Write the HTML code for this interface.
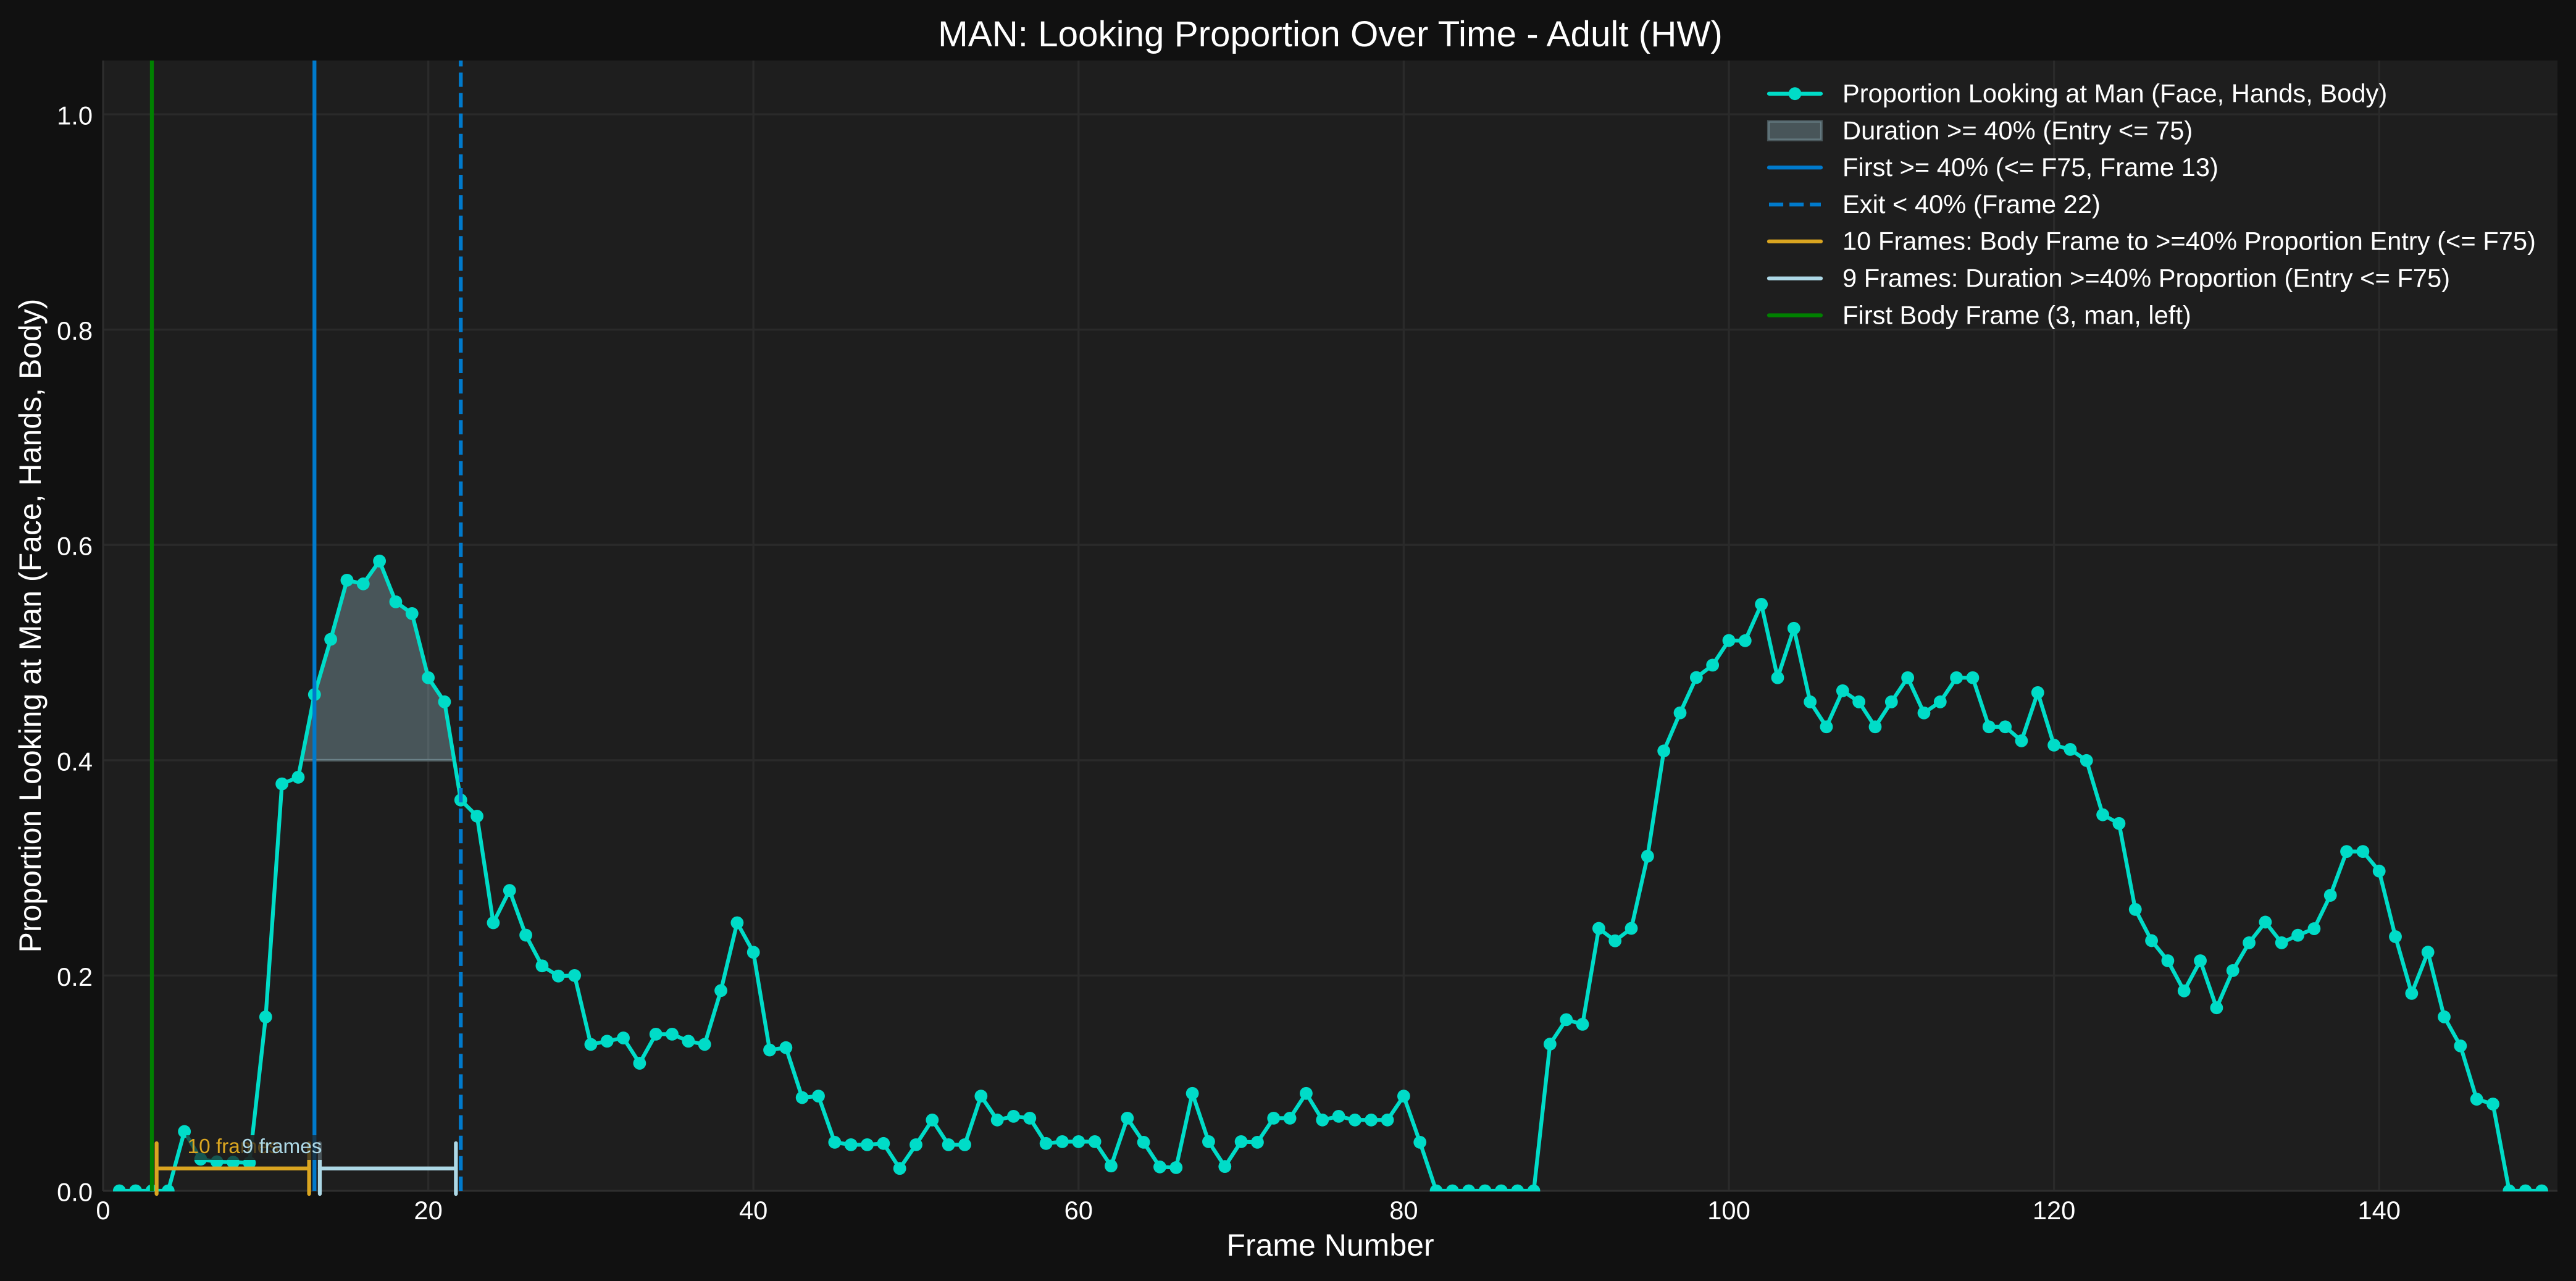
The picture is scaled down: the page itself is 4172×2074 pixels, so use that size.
<!DOCTYPE html>
<html lang="en">
<head>
<meta charset="utf-8">
<title>MAN: Looking Proportion Over Time - Adult (HW)</title>
<style>
html,body{margin:0;padding:0;background:#111111;}
svg{display:block;font-family:"Liberation Sans",Arial,sans-serif;}
</style>
</head>
<body>
<svg id="chart" xmlns="http://www.w3.org/2000/svg" width="4172" height="2074" viewBox="0 0 4172 2074">
  <rect x="0" y="0" width="4172" height="2074" fill="#111111"/>
  <rect x="167" y="98" width="3975" height="1830" fill="#1e1e1e"/>
  <defs>
    <clipPath id="axes-clip"><rect x="167" y="98" width="3975" height="1831"/></clipPath>
  </defs>
  <g id="grid"></g>
  <line x1="167" y1="98" x2="167" y2="1928" stroke="#2e2e2e" stroke-width="2"/>
  <line x1="167" y1="1928" x2="4142" y2="1928" stroke="#2e2e2e" stroke-width="2"/>
  <g id="plot-clipped" clip-path="url(#axes-clip)"></g>
  <g id="annotations"></g>
  <g id="x-ticks"></g>
  <g id="y-ticks"></g>

  <text x="2154.5" y="75" text-anchor="middle" font-size="58.33" fill="#ffffff">MAN: Looking Proportion Over Time - Adult (HW)</text>
  <text x="2154.5" y="2033" text-anchor="middle" font-size="50" fill="#ffffff">Frame Number</text>
  <text transform="translate(66 1013) rotate(-90)" text-anchor="middle" font-size="50" fill="#ffffff">Proportion Looking at Man (Face, Hands, Body)</text>

  <g font-size="41.67" fill="#ffffff">
    <g>
      <line x1="2865" y1="151.7" x2="2949" y2="151.7" stroke="#00dcc8" stroke-width="6.25" stroke-linecap="round"/>
      <circle cx="2907" cy="151.7" r="10.4" fill="#00dcc8"/>
      <text x="2984" y="165.5">Proportion Looking at Man (Face, Hands, Body)</text>
    </g>
    <g>
      <rect x="2864" y="196.5" width="86" height="30" fill="#add8e6" fill-opacity="0.3" stroke="#add8e6" stroke-opacity="0.3" stroke-width="4.17"/>
      <text x="2984" y="225.3">Duration &gt;= 40% (Entry &lt;= 75)</text>
    </g>
    <g>
      <line x1="2865" y1="271.3" x2="2949" y2="271.3" stroke="#007acc" stroke-width="6.25" stroke-linecap="round"/>
      <text x="2984" y="285.1">First &gt;= 40% (&lt;= F75, Frame 13)</text>
    </g>
    <g>
      <line x1="2865" y1="331.1" x2="2949" y2="331.1" stroke="#007acc" stroke-width="6.25" stroke-dasharray="23.1 10"/>
      <text x="2984" y="344.9">Exit &lt; 40% (Frame 22)</text>
    </g>
    <g>
      <line x1="2865" y1="390.9" x2="2949" y2="390.9" stroke="#daa520" stroke-width="6.25" stroke-linecap="round"/>
      <text x="2984" y="404.7">10 Frames: Body Frame to &gt;=40% Proportion Entry (&lt;= F75)</text>
    </g>
    <g>
      <line x1="2865" y1="450.7" x2="2949" y2="450.7" stroke="#add8e6" stroke-width="6.25" stroke-linecap="round"/>
      <text x="2984" y="464.5">9 Frames: Duration &gt;=40% Proportion (Entry &lt;= F75)</text>
    </g>
    <g>
      <line x1="2865" y1="510.5" x2="2949" y2="510.5" stroke="#008000" stroke-width="6.25" stroke-linecap="round"/>
      <text x="2984" y="524.3">First Body Frame (3, man, left)</text>
    </g>
  </g>
</svg>
<script>
const frames = [1,2,3,4,5,6,7,8,9,10,11,12,13,14,15,16,17,18,19,20,21,22,23,24,25,26,27,28,29,30,
  31,32,33,34,35,36,37,38,39,40,41,42,43,44,45,46,47,48,49,50,51,52,53,54,55,56,57,58,59,60,
  61,62,63,64,65,66,67,68,69,70,71,72,73,74,75,76,77,78,79,80,81,82,83,84,85,86,87,88,89,90,
  91,92,93,94,95,96,97,98,99,100,101,102,103,104,105,106,107,108,109,110,111,112,113,114,115,116,117,118,119,120,
  121,122,123,124,125,126,127,128,129,130,131,132,133,134,135,136,137,138,139,140,141,142,143,144,145,146,147,148,149,150];
const proportion = [0,0,0,0,0.0551,0.0294,0.027,0.0266,0.026,0.1615,
  0.378,0.3842,0.461,0.5123,0.5672,0.5638,0.585,0.5471,0.5362,0.4766,
  0.4542,0.363,0.348,0.249,0.279,0.2375,0.209,0.1995,0.2,0.136,
  0.139,0.142,0.1185,0.1455,0.1455,0.139,0.136,0.186,0.249,0.2216,
  0.1308,0.133,0.0866,0.088,0.0451,0.0428,0.0428,0.044,0.0208,0.0428,
  0.0658,0.0428,0.0428,0.088,0.0658,0.0692,0.0675,0.044,0.0457,0.0457,
  0.0457,0.0231,0.0675,0.0451,0.0222,0.0216,0.0905,0.0457,0.0226,0.0457,
  0.0451,0.0675,0.0675,0.0905,0.0658,0.0692,0.0658,0.0658,0.0658,0.088,
  0.0451,0,0,0,0,0,0,0,0.1363,0.159,
  0.1547,0.2438,0.2322,0.2438,0.3108,0.4086,0.444,0.4768,0.4883,0.5112,
  0.511,0.5448,0.4766,0.5225,0.4542,0.431,0.4645,0.4542,0.431,0.4542,
  0.4766,0.4439,0.4542,0.4766,0.4766,0.431,0.431,0.418,0.4628,0.414,
  0.41,0.3997,0.3493,0.3412,0.2614,0.2324,0.2137,0.1857,0.2137,0.17,
  0.2046,0.2304,0.2496,0.2304,0.2374,0.2435,0.2745,0.3152,0.3152,0.297,
  0.2361,0.1834,0.2217,0.1616,0.1346,0.0851,0.0806,0,0,0];
const xTicks = [0,20,40,60,80,100,120,140];
const yTicks = [0,0.2,0.4,0.6,0.8,1];
const yTickLabels = ["0.0","0.2","0.4","0.6","0.8","1.0"];
const threshold = 0.4;
const entryFrame = 13;
const exitFrame = 22;
const firstBodyFrame = 3;
const tenFramesSpan = [3.29,12.67];
const nineFramesSpan = [13.33,21.7];
const barLevel = 0.0208;
const capTop = 0.0442;
const capBottom = -0.0029;
const tenFramesLabel = "10 frames";
const nineFramesLabel = "9 frames";
const tenFramesLabelX = 8;
const nineFramesLabelX = 11;
const annotationLevel = 0.035;

const SVGNS = "http://www.w3.org/2000/svg";
const xLeft = 167, xScale = 26.33, xRight = 4142;
const yZero = 1928, yScale = 1743, yTop = 98;
function sx(v){ return xLeft + v * xScale; }
function sy(v){ return yZero - v * yScale; }
function make(tag, attrs, parent){
  const n = document.createElementNS(SVGNS, tag);
  for (const k in attrs) n.setAttribute(k, attrs[k]);
  parent.appendChild(n);
  return n;
}
const gridG = document.getElementById("grid");
const plotG = document.getElementById("plot-clipped");
const annG = document.getElementById("annotations");
const xTickG = document.getElementById("x-ticks");
const yTickG = document.getElementById("y-ticks");

xTicks.forEach(function(t){
  const g = make("line",{x1:sx(t),y1:yTop,x2:sx(t),y2:yZero,stroke:"#2a2a2a","stroke-width":3.3},gridG);
  
  
  const l = make("text",{x:sx(t),y:1974,"text-anchor":"middle","font-size":41.67,fill:"#ffffff"},xTickG);
  l.textContent = String(t);
  
  
});
yTicks.forEach(function(t,i){
  const g = make("line",{x1:xLeft,y1:sy(t),x2:xRight,y2:sy(t),stroke:"#2a2a2a","stroke-width":3.3},gridG);
  
  
  const l = make("text",{x:150,y:sy(t)+16.5,"text-anchor":"end","font-size":41.67,fill:"#ffffff"},yTickG);
  l.textContent = yTickLabels[i];
  
  
});

/* shaded duration region between threshold crossings */
function crossing(a,b){
  const va = proportion[frames.indexOf(a)], vb = proportion[frames.indexOf(b)];
  return a + (threshold - va) / (vb - va) * (b - a);
}
const fillPts = [[crossing(entryFrame-1,entryFrame),threshold]];
frames.forEach(function(f,i){
  if (f >= entryFrame && f < exitFrame) fillPts.push([f,proportion[i]]);
});
fillPts.push([crossing(exitFrame-1,exitFrame),threshold]);
const fillPoly = make("polygon",{points:fillPts.map(function(p){return sx(p[0])+","+sy(p[1]);}).join(" "),
  fill:"#add8e6","fill-opacity":0.3,stroke:"#add8e6","stroke-opacity":0.3,"stroke-width":4.17,"stroke-linejoin":"miter"},plotG);



/* main series */
const seriesLine = make("polyline",{points:frames.map(function(f,i){return sx(f)+","+sy(proportion[i]);}).join(" "),
  fill:"none",stroke:"#00dcc8","stroke-width":6.25,"stroke-linejoin":"round","stroke-linecap":"round"},plotG);


frames.forEach(function(f,i){
  const c = make("circle",{cx:sx(f),cy:sy(proportion[i]),r:10.4,fill:"#00dcc8"},plotG);
  
  
});

/* vertical reference lines */
const entryLine = make("line",{x1:sx(entryFrame),y1:yZero,x2:sx(entryFrame),y2:yTop,stroke:"#007acc","stroke-width":6.25},plotG);


const exitLine = make("line",{x1:sx(exitFrame),y1:yZero,x2:sx(exitFrame),y2:yTop,stroke:"#007acc","stroke-width":6.25,"stroke-dasharray":"23.1 10"},plotG);


const bodyLine = make("line",{x1:sx(firstBodyFrame),y1:yZero,x2:sx(firstBodyFrame),y2:yTop,stroke:"#008000","stroke-width":6.25},plotG);



/* bracket bars */
function bracket(span,color,g){
  make("line",{x1:sx(span[0]),y1:sy(barLevel),x2:sx(span[1]),y2:sy(barLevel),stroke:color,"stroke-width":6.25,"stroke-linecap":"round"},g);
  make("line",{x1:sx(span[0]),y1:sy(capTop),x2:sx(span[0]),y2:sy(capBottom),stroke:color,"stroke-width":6.25,"stroke-linecap":"round"},g);
  make("line",{x1:sx(span[1]),y1:sy(capTop),x2:sx(span[1]),y2:sy(capBottom),stroke:color,"stroke-width":6.25,"stroke-linecap":"round"},g);
}
function boxedLabel(text,xv,color,g){
  const tx = make("text",{x:sx(xv),y:sy(annotationLevel)+0,"text-anchor":"middle","font-size":33.33,fill:color},g);
  tx.textContent = text;
  const w = text.length === 9 ? 148 : 130;
  const b = make("rect",{x:sx(xv)-w/2-2,y:sy(annotationLevel)-29,width:w+4,height:40,fill:"#1e1e1e","fill-opacity":0.7},g);
  g.insertBefore(b,tx);
  return [b,tx];
}
const tenGroup = make("g",{},annG);


bracket(tenFramesSpan,"#daa520",tenGroup);
boxedLabel(tenFramesLabel,tenFramesLabelX,"#daa520",tenGroup);
const nineGroup = make("g",{},annG);


bracket(nineFramesSpan,"#add8e6",nineGroup);
boxedLabel(nineFramesLabel,nineFramesLabelX,"#add8e6",nineGroup);
</script>
</body>
</html>
